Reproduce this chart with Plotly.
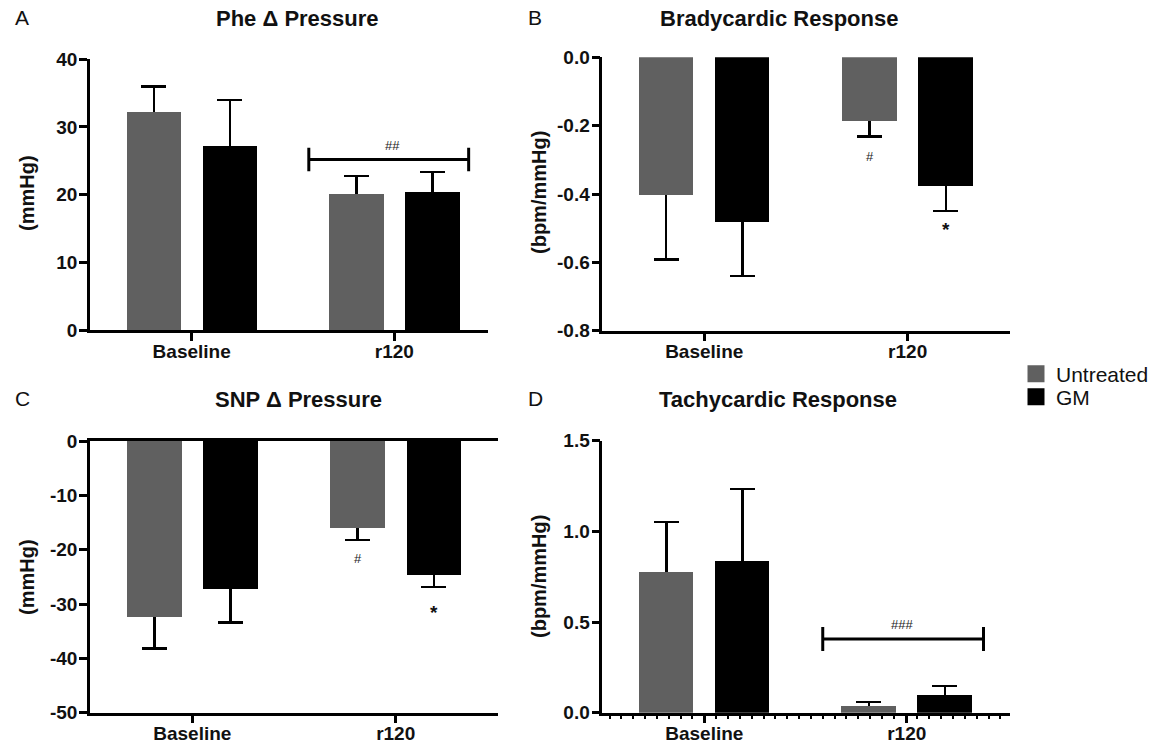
import plotly.graph_objects as go

# ---------------- data ----------------
groups = ["Baseline", "r120"]
group_pos = [0, 1]
series_names = ["Untreated", "GM"]

phe_untreated = [32.1, 20.05]
phe_untreated_sem = [3.85, 2.7]
phe_gm = [27.1, 20.3]
phe_gm_sem = [6.9, 3.05]

brady_untreated = [-0.405, -0.188]
brady_untreated_sem = [0.186, 0.044]
brady_gm = [-0.484, -0.377]
brady_gm_sem = [0.156, 0.073]

snp_untreated = [-32.4, -16.1]
snp_untreated_sem = [5.8, 2.1]
snp_gm = [-27.3, -24.7]
snp_gm_sem = [6.1, 2.2]

tachy_untreated = [0.778, 0.037]
tachy_untreated_sem = [0.274, 0.022]
tachy_gm = [0.837, 0.098]
tachy_gm_sem = [0.397, 0.049]

phe_ticks = [0, 10, 20, 30, 40]
phe_ticktext = ["0", "10", "20", "30", "40"]
brady_ticks = [0, -0.2, -0.4, -0.6, -0.8]
brady_ticktext = ["0.0", "-0.2", "-0.4", "-0.6", "-0.8"]
snp_ticks = [0, -10, -20, -30, -40, -50]
snp_ticktext = ["0", "-10", "-20", "-30", "-40", "-50"]
tachy_ticks = [0, 0.5, 1.0, 1.5]
tachy_ticktext = ["0.0", "0.5", "1.0", "1.5"]

# ---------------- style ----------------
W, H = 1161, 746
FONT = "Liberation Sans"
INK = "#111111"
COLORS = ["#606060", "#000000"]
BAR_W = 0.268
OFFS = [-0.321, 0.054]
LW = 2.5


def px_x(p):
    return p / W


def px_y(p):
    return 1 - p / H


fig = go.Figure()

panels = [
    dict(letter="A", title="Phe \u0394 Pressure", ytitle="(mmHg)",
         vals=[phe_untreated, phe_gm], sems=[phe_untreated_sem, phe_gm_sem],
         xa="x", ya="y", xdom=(90, 487.5), ydom=(59.3, 330), xr=[-0.502, 1.46], yr=[0, 40],
         ticks=phe_ticks, ticktext=phe_ticktext,
         letter_xy=(22, 17), title_xy=(297, 18), ytitle_xy=(27, 193)),
    dict(letter="B", title="Bradycardic Response", ytitle="(bpm/mmHg)",
         vals=[brady_untreated, brady_gm], sems=[brady_untreated_sem, brady_gm_sem],
         xa="x2", ya="y2", xdom=(602.3, 1010), ydom=(57.3, 330.7), xr=[-0.501, 1.503], yr=[-0.8, 0],
         ticks=brady_ticks, ticktext=brady_ticktext,
         letter_xy=(535, 17), title_xy=(779, 18), ytitle_xy=(539, 193)),
    dict(letter="C", title="SNP \u0394 Pressure", ytitle="(mmHg)",
         vals=[snp_untreated, snp_gm], sems=[snp_untreated_sem, snp_gm_sem],
         xa="x3", ya="y3", xdom=(90, 498), ydom=(441, 712.7), xr=[-0.503, 1.503], yr=[-50, 0],
         ticks=snp_ticks, ticktext=snp_ticktext,
         letter_xy=(22, 398), title_xy=(298, 399), ytitle_xy=(27, 577)),
    dict(letter="D", title="Tachycardic Response", ytitle="(bpm/mmHg)",
         vals=[tachy_untreated, tachy_gm], sems=[tachy_untreated_sem, tachy_gm_sem],
         xa="x4", ya="y4", xdom=(602.3, 1010), ydom=(440.7, 712.7), xr=[-0.504, 1.51], yr=[0, 1.5],
         ticks=tachy_ticks, ticktext=tachy_ticktext,
         letter_xy=(535, 398), title_xy=(778, 399), ytitle_xy=(539, 577)),
]

annotations = []
layout_axes = {}

for i, p in enumerate(panels):
    # error-bar carriers first (drawn under the bars so only the outer whisker shows)
    for s in range(2):
        vals, sem = p["vals"][s], p["sems"][s]
        neg = vals[0] < 0
        plus = [abs(v) / 2 for v in vals] if neg else sem
        minus = sem if neg else [abs(v) / 2 for v in vals]
        fig.add_trace(go.Bar(
            x=group_pos, y=vals, offset=OFFS[s], width=BAR_W,
            marker=dict(color="rgba(0,0,0,0)", line=dict(width=0)),
            error_y=dict(type="data", symmetric=False, array=plus, arrayminus=minus,
                         color="#000000", thickness=LW, width=12.5),
            xaxis=p["xa"], yaxis=p["ya"], showlegend=False, hoverinfo="skip"))
    for s in range(2):
        fig.add_trace(go.Bar(
            x=group_pos, y=p["vals"][s], offset=OFFS[s], width=BAR_W,
            marker=dict(color=COLORS[s], line=dict(width=0)),
            name=series_names[s], xaxis=p["xa"], yaxis=p["ya"], showlegend=False))

    xn = "xaxis" + ("" if i == 0 else str(i + 1))
    yn = "yaxis" + ("" if i == 0 else str(i + 1))
    layout_axes[xn] = dict(
        domain=[px_x(p["xdom"][0]), px_x(p["xdom"][1])], range=p["xr"],
        anchor=p["ya"], showline=True, linewidth=LW, linecolor="#000000",
        ticks="outside", ticklen=8, tickwidth=LW, tickcolor="#000000",
        tickmode="array", tickvals=group_pos, ticktext=groups, ticklabelstandoff=-6,
        tickfont=dict(family=FONT, size=19, color=INK, weight="bold"),
        showgrid=False, zeroline=False, fixedrange=True, automargin=False)
    layout_axes[yn] = dict(
        domain=[px_y(p["ydom"][1]), px_y(p["ydom"][0])], range=p["yr"],
        anchor=p["xa"], showline=True, linewidth=LW, linecolor="#000000",
        ticks="outside", ticklen=8, tickwidth=LW, tickcolor="#000000",
        tickmode="array", tickvals=p["ticks"], ticktext=p["ticktext"], ticklabelstandoff=-2,
        tickfont=dict(family=FONT, size=19, color=INK, weight="bold"),
        showgrid=False, zeroline=False, fixedrange=True, automargin=False)

    annotations.append(dict(text=p["letter"], x=px_x(p["letter_xy"][0]), y=px_y(p["letter_xy"][1]),
                            xref="paper", yref="paper", showarrow=False, xanchor="center", yanchor="middle",
                            font=dict(family=FONT, size=21, color=INK)))
    annotations.append(dict(text=p["title"], x=px_x(p["title_xy"][0]), y=px_y(p["title_xy"][1]),
                            xref="paper", yref="paper", showarrow=False, xanchor="center", yanchor="middle",
                            font=dict(family=FONT, size=22, color=INK, weight="bold")))
    annotations.append(dict(text=p["ytitle"], x=px_x(p["ytitle_xy"][0]), y=px_y(p["ytitle_xy"][1]),
                            xref="paper", yref="paper", showarrow=False, xanchor="center", yanchor="middle",
                            textangle=-90, font=dict(family=FONT, size=20, color=INK, weight="bold")))

# C: plain zero line along the top of the plot
layout_axes["xaxis3"]["mirror"] = True
# D: minor ticks along the x axis
layout_axes["xaxis4"]["minor"] = dict(ticks="outside", ticklen=3.5, tickwidth=1.5, tickcolor="#000000",
                                      tickmode="linear", tick0=0, dtick=0.0585)
# B: zero line with small ticks at the top
layout_axes["xaxis5"] = dict(overlaying="x2", anchor="y2", side="top", range=panels[1]["xr"],
                             showline=True, linewidth=1.5, linecolor="#000000",
                             tickmode="linear", tick0=0, dtick=0.0385, ticks="outside",
                             ticklen=3.5, tickwidth=1.2, tickcolor="#000000", showticklabels=False,
                             showgrid=False, zeroline=False, fixedrange=True, automargin=False)

# significance brackets (horizontal error bar with end caps)
brackets = [("x", "y", 0.578, 1.367, 25.2, 11.7), ("x4", "y4", 0.585, 1.379, 0.407, 12)]
for xa, ya, a, b, yv, cap in brackets:
    fig.add_trace(go.Scatter(x=[(a + b) / 2], y=[yv], mode="markers",
                             marker=dict(size=1, color="rgba(0,0,0,0)"),
                             error_x=dict(type="data", array=[(b - a) / 2], color="#000000",
                                          thickness=3, width=cap),
                             xaxis=xa, yaxis=ya, showlegend=False, hoverinfo="skip"))

small = dict(family=FONT, size=13, color="#222222")
star = dict(family=FONT, size=19, color=INK, weight="bold")
gx = 1 + OFFS[0] + BAR_W / 2
bx = 1 + OFFS[1] + BAR_W / 2
for txt, xr, yr, x, y, f in [
    ("##", "x", "y", 0.99, 27.2, small),
    ("#", "x2", "y2", gx, -0.291, small),
    ("*", "x2", "y2", bx, -0.505, star),
    ("#", "x3", "y3", gx, -21.7, small),
    ("*", "x3", "y3", bx, -31.6, star),
    ("###", "x4", "y4", 0.977, 0.484, small),
]:
    annotations.append(dict(text=txt, x=x, y=y, xref=xr, yref=yr, showarrow=False,
                            xanchor="center", yanchor="middle", font=f))

# legend entries (one legend box per entry so the rows sit as close as in the reference)
legend_ids = ["legend", "legend2"]
legend_rows = [374, 397]
for s in range(2):
    fig.add_trace(go.Bar(x=[None], y=[None], name=series_names[s], legend=legend_ids[s],
                         marker=dict(color=COLORS[s], line=dict(color=COLORS[s], width=5)),
                         xaxis="x", yaxis="y", showlegend=True))

legend_style = dict(font=dict(family=FONT, size=21, color=INK), bgcolor="rgba(0,0,0,0)",
                    xanchor="left", yanchor="middle")

fig.update_layout(
    width=W, height=H, margin=dict(l=0, r=0, t=0, b=0, autoexpand=False),
    paper_bgcolor="white", plot_bgcolor="white",
    barmode="overlay", bargap=0,
    showlegend=True,
    legend=dict(x=px_x(1016), y=px_y(legend_rows[0]), **legend_style),
    legend2=dict(x=px_x(1016), y=px_y(legend_rows[1]), **legend_style),
    annotations=annotations,
    **layout_axes,
)

fig.write_html("out.html", config={"displayModeBar": False},
               post_script="document.body.style.margin='0px';")
